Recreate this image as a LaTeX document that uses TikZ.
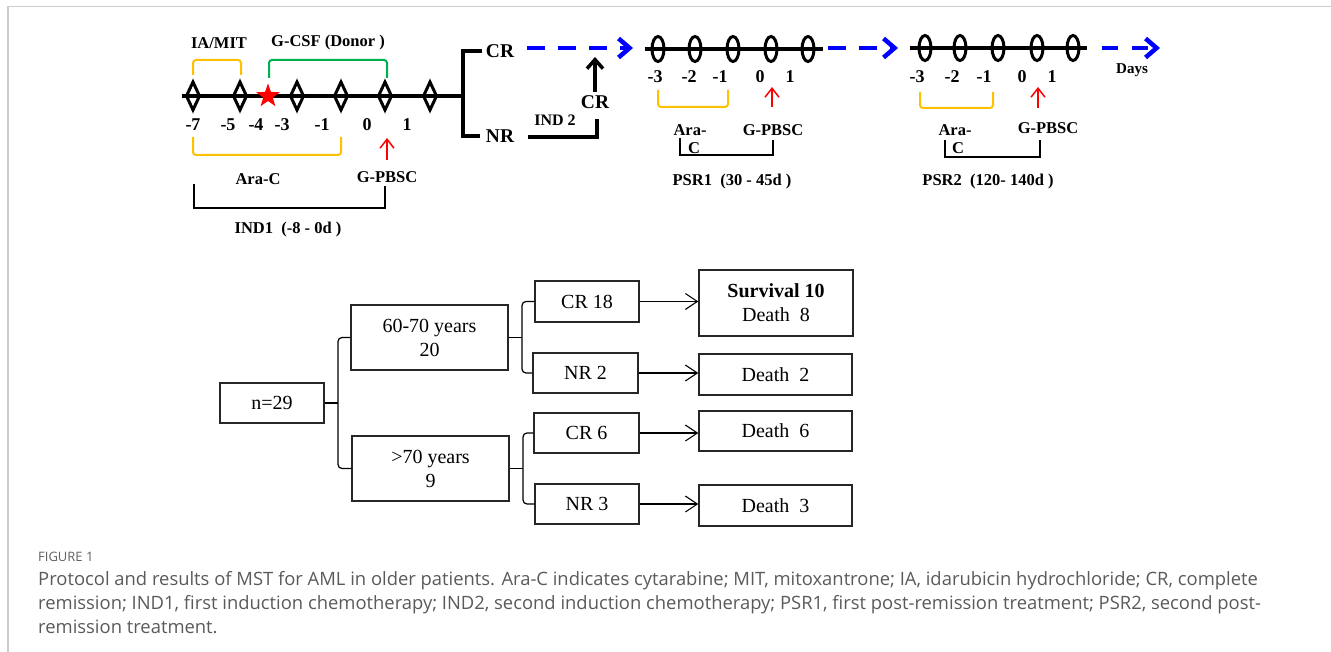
\documentclass[tikz,border=0pt]{standalone}
\usepackage{fontspec}
\setmainfont{Liberation Serif}
\newfontfamily\capfont{Open Sans}
\usetikzlibrary{arrows.meta,shapes.geometric}
\definecolor{ora}{HTML}{FFC000}
\definecolor{grn}{HTML}{00B050}
\definecolor{blu}{HTML}{0000FF}
\definecolor{capgray}{HTML}{5A5A5A}
\definecolor{figgray}{HTML}{5F5F5F}
\definecolor{bordergray}{HTML}{CCCCCC}
\begin{document}
\begin{tikzpicture}[x=1pt,y=-1pt,
  lbl/.style={font=\fontsize{16.5}{19}\selectfont\bfseries, inner sep=0},
  num/.style={font=\fontsize{18}{20}\selectfont\bfseries, inner sep=0},
  big/.style={font=\fontsize{19.5}{22}\selectfont\bfseries, inner sep=0},
  box/.style={draw=black!85, line width=1.3, font=\fontsize{20}{24}\selectfont, align=center, inner sep=0},
  flowarrow/.style={line width=1.1, -{Straight Barb[length=12pt,width=16pt]}},
  redarrow/.style={red, line width=1.5, -{Straight Barb[length=9pt,width=14pt]}},
  bluearrow/.style={blu, line width=4.5, dash pattern=on 18pt off 13pt, -{Straight Barb[length=11pt,width=19pt]}},
  orab/.style={ora, line width=2, rounded corners=3},
  grnb/.style={grn, line width=2, rounded corners=3},
  thinb/.style={black, line width=1.5},
  dmd/.style={line width=3},
  ovl/.style={line width=3},
  capline/.style={font=\capfont\fontsize{18.4}{22}\selectfont, text=capgray, inner sep=0, anchor=base west}
]
\useasboundingbox (0,0) rectangle (1331,652);
% frame lines
\draw[bordergray, line width=1.6] (8,652) -- (8,6.5) -- (1331,6.5);

% ---------- IND1 timeline ----------
\coordinate (m0) at (182,96);
\coordinate (m1) at (463,96);
\draw[line width=4.5] (m0) -- (m1);
\foreach \x in {193,240,297,341,385,430}{
  \draw[dmd] (\x,82) -- (\x+6.5,96) -- (\x,110) -- (\x-6.5,96) -- cycle;
}
\node[star, star points=5, star point ratio=2.5, fill=red, minimum size=25pt, inner sep=0] (star) at (268,96) {};
\foreach \t/\x in {-7/193,-5/228,-4/256,-3/282,-1/322,0/367,1/407}{
  \node[num] at (\x,125) {\t};
}
\node[lbl] (iamit) at (219,43) {IA/MIT};
\node[lbl] (gcsf) at (328,43) {G-CSF (Donor )};
\draw[orab] (193,75) -- (193,60) -- (241,60) -- (241,75);
\draw[grnb] (269,78) -- (269,60) -- (387,60) -- (387,78);
\draw[orab] (193,137) -- (193,155) -- (341,155) -- (341,137);
\node[lbl] (arac1) at (258,179) {Ara-C};
\node[lbl] (gp1) at (387,177) {G-PBSC};
\coordinate (ra1) at (387,160);
\draw[redarrow] (ra1) -- (gp1.north |- 0,138);
\draw[thinb] (194,184) -- (194,208) -- (385,208) -- (385,186);
\node[lbl] (ind1) at (288,230) {IND1\ \ (-8 - 0d )};

% ---------- CR / NR bracket ----------
\node[big] (crtop) at (500,51) {CR};
\node[big] (nr) at (500,136) {NR};
\draw[line width=4.5] (crtop.west) ++(-4,0) coordinate (ct) -- (ct -| m1) -- (m1 |- nr.west) -- ++(17,0);
\draw[line width=4] (528,137) -- (597,137) -- (597,119);
\node[lbl, font=\fontsize{16}{18}\selectfont\bfseries] (ind2) at (555,120) {IND 2};
\node[big] (cr2) at (595,102) {CR};
\draw[line width=3.5, -{Straight Barb[length=9pt,width=16pt]}] (cr2.north) ++(0,-3) -- (595,57);

\draw[bluearrow] (527,48) -- (633,48);

% ---------- PSR1 ----------
\draw[line width=4] (645,49) -- (823,49);
\foreach \x in {658,695,733,771,808}{
  \draw[ovl] (\x,49) ellipse [x radius=6, y radius=12.5];
}
\foreach \t/\x in {-3/655,-2/689,-1/720,0/760,1/790}{
  \node[num] at (\x,77) {\t};
}
\draw[orab] (658,90) -- (658,107) -- (728,107) -- (728,90);
\draw[redarrow] (772,107) -- (772,87);
\node[lbl] (ara2) at (690,130) {Ara-};
\node[lbl] (c2) at (694,148) {C};
\node[lbl] (gp2) at (773,130) {G-PBSC};
\draw[thinb] (680,138) -- (680,155) -- (773,155) -- (773,140);
\node[lbl] (psr1) at (732,182) {PSR1\ \ (30 - 45d )};

\draw[bluearrow] (828,48) -- (898,48);

% ---------- PSR2 ----------
\draw[line width=4] (910,48) -- (1087,48);
\foreach \x in {925,960,998,1037,1073}{
  \draw[ovl] (\x,48) ellipse [x radius=6, y radius=12.5];
}
\foreach \t/\x in {-3/917,-2/952,-1/984,0/1022,1/1052}{
  \node[num] at (\x,77) {\t};
}
\draw[orab] (920,92) -- (920,108) -- (993,108) -- (993,92);
\draw[redarrow] (1038,108) -- (1038,87);
\node[lbl] (ara3) at (955,130) {Ara-};
\node[lbl] (c3) at (958,148) {C};
\node[lbl] (gp3) at (1048,128) {G-PBSC};
\draw[thinb] (945,140) -- (945,157) -- (1040,157) -- (1040,140);
\node[lbl] (psr2) at (988,182) {PSR2\ \ (120- 140d )};

\draw[bluearrow, dash pattern=on 16pt off 14pt] (1102,48) -- (1160,48);
\node[lbl, font=\fontsize{15}{17}\selectfont\bfseries] (days) at (1132,70) {Days};

% ---------- flow chart ----------
\node[box, minimum width=104, minimum height=40] (n29) at (272,403) {n=29};
\node[box, minimum width=157, minimum height=65] (a60) at (429.5,337.5) {60-70 years\\20};
\node[box, minimum width=157, minimum height=65] (a70) at (430.5,468.5) {>70 years\\9};
\node[box, minimum width=104, minimum height=41] (cr18) at (587,301.5) {CR 18};
\node[box, minimum width=105, minimum height=40] (nr2) at (585.5,373) {NR 2};
\node[box, minimum width=105, minimum height=40] (cr6) at (586.5,433) {CR 6};
\node[box, minimum width=104, minimum height=40] (nr3) at (587,504) {NR 3};
\node[box, minimum width=154, minimum height=66] (surv) at (776,303) {\textbf{Survival 10}\\Death\ \ 8};
\node[box, minimum width=153, minimum height=41] (d2) at (775.5,374.5) {Death\ \ 2};
\node[box, minimum width=153, minimum height=40] (d6) at (775.5,431) {Death\ \ 6};
\node[box, minimum width=153, minimum height=41] (d3) at (775.5,505.5) {Death\ \ 3};

\coordinate (b1) at (338,403);
\coordinate (b2) at (522,337.5);
\coordinate (b3) at (523,468.5);
\draw[line width=1.2] (n29.east) -- (b1);
\draw[line width=1.2, rounded corners=4] (a60.west) -- (a60.west -| b1) -- (a70.west -| b1) -- (a70.west);
\draw[line width=1.2] (a60.east) -- (b2);
\draw[line width=1.2, rounded corners=4] (cr18.west) -- (cr18.west -| b2) -- (nr2.west -| b2) -- (nr2.west);
\draw[line width=1.2] (a70.east) -- (b3);
\draw[line width=1.2, rounded corners=4] (cr6.west) -- (cr6.west -| b3) -- (nr3.west -| b3) -- (nr3.west);

\draw[flowarrow] (cr18.east) -- (cr18.east -| surv.west);
\draw[flowarrow] (nr2.east) -- (nr2.east -| d2.west);
\draw[flowarrow] (cr6.east) -- (cr6.east -| d6.west);
\draw[flowarrow] (nr3.east) -- (nr3.east -| d3.west);

% ---------- caption ----------
\node[font=\capfont\fontsize{13}{16}\selectfont, text=figgray, inner sep=0, anchor=base west] (fig) at (38,561) {FIGURE 1};
\node[capline] (cap1) at (38,585) {Protocol and results of MST for AML in older patients. Ara-C indicates cytarabine; MIT, mitoxantrone; IA, idarubicin hydrochloride; CR, complete};
\node[capline] (cap2) at (38,609) {remission; IND1, first induction chemotherapy; IND2, second induction chemotherapy; PSR1, first post-remission treatment; PSR2, second post-};
\node[capline] (cap3) at (38,633) {remission treatment.};
\end{tikzpicture}
\end{document}
